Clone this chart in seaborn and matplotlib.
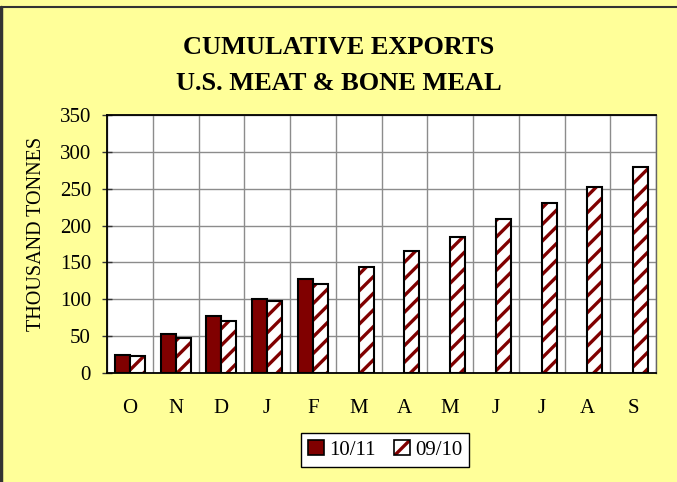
import matplotlib
matplotlib.use("Agg")
import matplotlib.pyplot as plt
from matplotlib.patches import Rectangle, Patch
from matplotlib.legend_handler import HandlerTuple
import seaborn as sns
import pandas as pd
import numpy as np

months = ["O", "N", "D", "J", "F", "M", "A", "M", "J", "J", "A", "S"]
series_names = ["10/11", "09/10"]
vals_1011 = [25, 53, 77, 101, 127, np.nan, np.nan, np.nan, np.nan, np.nan, np.nan, np.nan]
vals_0910 = [23, 47, 71, 98, 121, 144, 165, 184, 209, 230, 253, 279]
yticks = [0, 50, 100, 150, 200, 250, 300, 350]

DARK_RED = "#800000"
BG = "#FFFF99"

sns.set_theme(style="white")
plt.rcParams["font.family"] = ["Liberation Serif", "DejaVu Serif"]
plt.rcParams["text.color"] = "black"
plt.rcParams["axes.labelcolor"] = "black"
plt.rcParams["xtick.color"] = "black"
plt.rcParams["ytick.color"] = "black"
plt.rcParams["hatch.linewidth"] = 2.4
plt.rcParams["hatch.color"] = DARK_RED

rows = []
for i, m in enumerate(months):
    rows.append({"pos": i, "month": m, "series": series_names[0], "value": vals_1011[i]})
    rows.append({"pos": i, "month": m, "series": series_names[1], "value": vals_0910[i]})
df = pd.DataFrame(rows)

fig = plt.figure(figsize=(6.77, 4.82), dpi=100)
fig.patch.set_facecolor(BG)
ax = fig.add_axes([107/677, 1 - 373/482, (656 - 107)/677, (373 - 115)/482])
ax.set_facecolor("white")

sns.barplot(data=df, x="pos", y="value", hue="series", hue_order=series_names,
            order=list(range(12)), width=0.66, gap=0, ax=ax, legend=False,
            errorbar=None, zorder=3)

# style bars
c0, c1 = ax.containers[0], ax.containers[1]
for p in c0:
    p.set_facecolor(DARK_RED)
    p.set_edgecolor("black")
    p.set_linewidth(1.5)
for p in c1:
    h = p.get_height()
    if np.isnan(h):
        continue
    p.set_facecolor("white")
    p.set_edgecolor(DARK_RED)
    p.set_hatch("//")
    p.set_linewidth(0)
    outline = Rectangle(p.get_xy(), p.get_width(), h, fill=False,
                        edgecolor="black", linewidth=1.5, zorder=4)
    ax.add_patch(outline)

ax.set_xlim(-0.5, 11.5)
ax.set_ylim(0, 350)
ax.set_yticks(yticks)
ax.set_xticks(range(12))
ax.set_xticklabels(months)
ax.set_xticks(np.arange(-0.5, 12, 1), minor=True)
ax.tick_params(axis="x", which="major", length=0, pad=19, labelsize=15)
ax.tick_params(axis="x", which="minor", length=8, direction="inout", width=1, color="#333333")
ax.tick_params(axis="y", which="major", length=7, direction="inout", width=1, pad=8,
               labelsize=15, left=True, color="#333333")
ax.grid(False)
ax.yaxis.grid(True, color="#8c8c8c", linewidth=1, zorder=0)
ax.xaxis.grid(True, which="minor", color="#8c8c8c", linewidth=1, zorder=0)
ax.set_axisbelow(True)
for s in ["left", "bottom", "top"]:
    ax.spines[s].set_color("black")
    ax.spines[s].set_linewidth(1.3)
ax.spines["right"].set_color("#666666")
ax.spines["right"].set_linewidth(1)

ax.set_xlabel("")
ax.set_ylabel("THOUSAND TONNES", fontsize=14.5)
ax.yaxis.set_label_coords((46 - 107) / 549, (373 - 234) / 258)

fig.text(0.5, 1 - 48/482, "CUMULATIVE EXPORTS", ha="center", va="center",
         fontsize=19, fontweight="bold")
fig.text(0.5, 1 - 83/482, "U.S. MEAT & BONE MEAL", ha="center", va="center",
         fontsize=19, fontweight="bold")

# legend
h0 = Patch(facecolor=DARK_RED, edgecolor="black", linewidth=1.2)
h1a = Patch(facecolor="white", edgecolor=DARK_RED, hatch="//", linewidth=0)
h1b = Patch(fill=False, edgecolor="black", linewidth=1.2)
leg = fig.legend([h0, (h1a, h1b)], series_names, ncol=2, loc="center",
                 bbox_to_anchor=(385/677, 1 - 450/482),
                 handler_map={tuple: HandlerTuple(ndivide=1)},
                 frameon=True, fancybox=False, fontsize=15,
                 handlelength=0.75, handleheight=0.75, handletextpad=0.25,
                 columnspacing=0.9, borderpad=0.35, borderaxespad=0)
leg.get_frame().set_edgecolor("black")
leg.get_frame().set_linewidth(1)
leg.get_frame().set_facecolor("white")
leg.get_frame().set_alpha(1)

# figure border (top and left)
fig.add_artist(plt.Line2D([0.002, 0.002], [0, 1 - 7/482], color="#333333", linewidth=2.5,
                          transform=fig.transFigure))
fig.add_artist(plt.Line2D([0.002, 1], [1 - 7/482, 1 - 7/482], color="#333333", linewidth=1.5,
                          transform=fig.transFigure))

fig.savefig("out.png", dpi=100, facecolor=BG)
